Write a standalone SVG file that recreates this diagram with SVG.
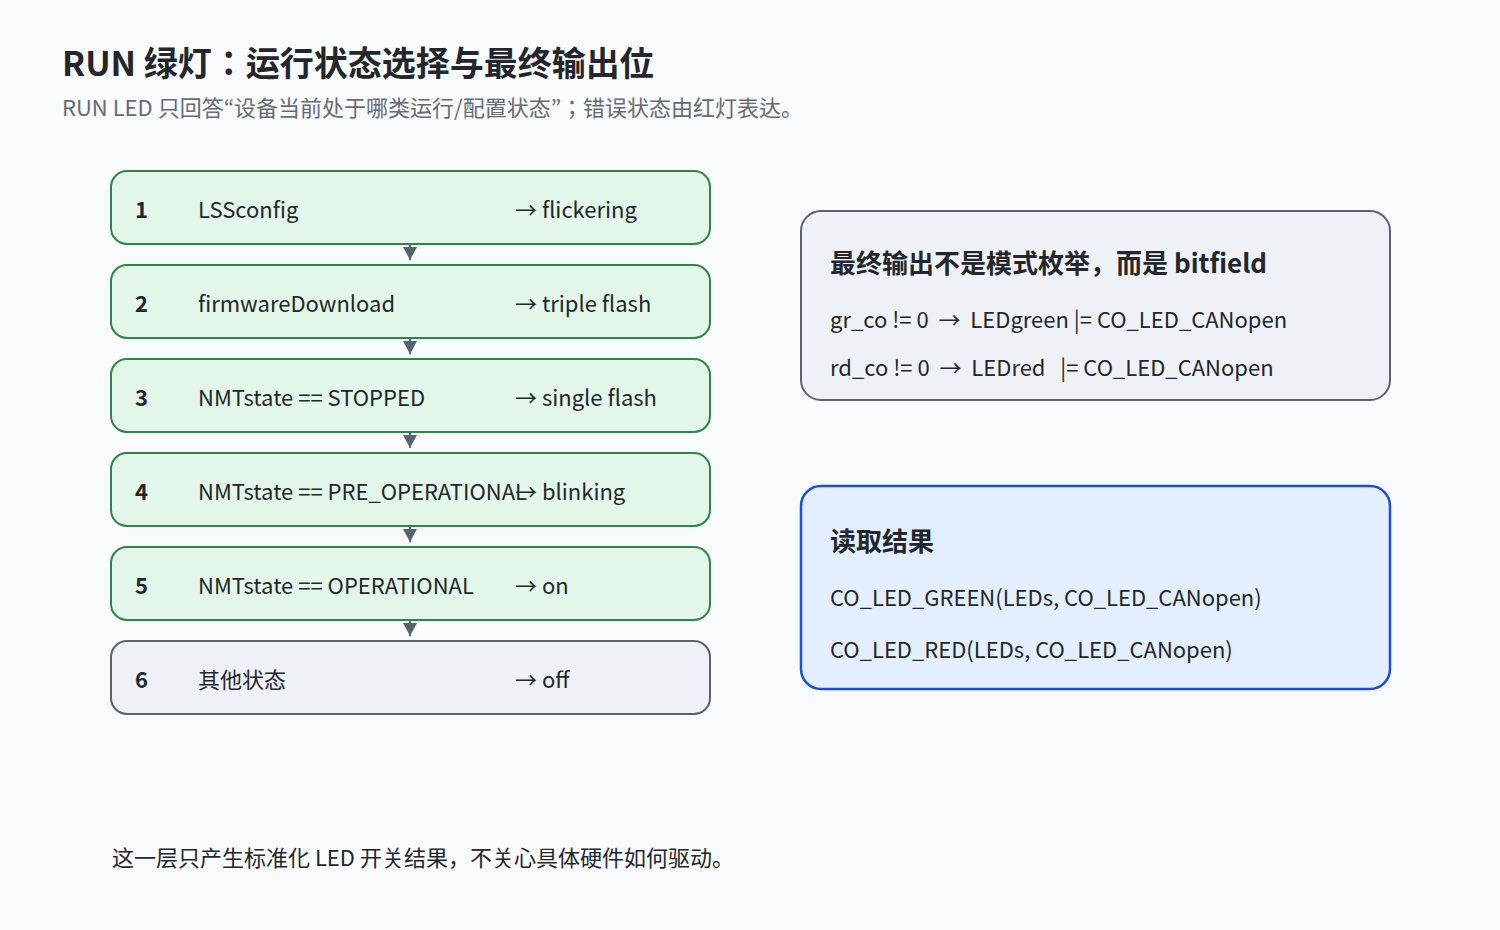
<svg xmlns="http://www.w3.org/2000/svg" width="1500" height="930" viewBox="0 0 1500 930">
<defs>
<style>
text{font-family:"Noto Sans CJK JP","Noto Sans CJK SC",sans-serif;fill:#23262b;white-space:pre}
.t{font-size:34px;font-weight:700}
.sub{font-size:22px;fill:#666b74}
.num{font-size:22px;font-weight:700}
.lb{font-size:22px}
.g{fill:#e3f6ea;stroke:#2e8544;stroke-width:2}
.n{fill:#eef2f7;stroke:#5a6270;stroke-width:2}
.b{fill:#e3efff;stroke:#1d4ed8;stroke-width:2.5}
.h{font-size:26px;font-weight:700}
.con{stroke:#5a6270;stroke-width:2;fill:none}
</style>
<marker id="ah" viewBox="0 0 13 14" refX="13" refY="7" markerWidth="13" markerHeight="14" markerUnits="userSpaceOnUse" orient="auto">
<path d="M0,0 L13,7 L0,14 z" fill="#5a6270"/>
</marker>
</defs>
<rect width="1500" height="930" fill="#f8fafc"/>
<text x="62" y="76" class="t">RUN 绿灯：运行状态选择与最终输出位</text>
<text x="62" y="116" class="sub">RUN LED 只回答“设备当前处于哪类运行/配置状态”；错误状态由红灯表达。</text>

<g id="connectors">
<path class="con" d="M410,245 V260" marker-end="url(#ah)"/>
<path class="con" d="M410,339 V354" marker-end="url(#ah)"/>
<path class="con" d="M410,433 V448" marker-end="url(#ah)"/>
<path class="con" d="M410,527 V542" marker-end="url(#ah)"/>
<path class="con" d="M410,621 V636" marker-end="url(#ah)"/>
</g>

<g id="n1"><rect x="111" y="171" width="599" height="73" rx="16" class="g"/>
<text x="135" y="218" class="num">1</text><text x="198" y="218" class="lb">LSSconfig</text><text x="515" y="218" class="lb">→ flickering</text></g>
<g id="n2"><rect x="111" y="265" width="599" height="73" rx="16" class="g"/>
<text x="135" y="312" class="num">2</text><text x="198" y="312" class="lb">firmwareDownload</text><text x="515" y="312" class="lb">→ triple flash</text></g>
<g id="n3"><rect x="111" y="359" width="599" height="73" rx="16" class="g"/>
<text x="135" y="406" class="num">3</text><text x="198" y="406" class="lb">NMTstate == STOPPED</text><text x="515" y="406" class="lb">→ single flash</text></g>
<g id="n4"><rect x="111" y="453" width="599" height="73" rx="16" class="g"/>
<text x="135" y="500" class="num">4</text><text x="198" y="500" class="lb">NMTstate == PRE_OPERATIONAL</text><text x="515" y="500" class="lb">→ blinking</text></g>
<g id="n5"><rect x="111" y="547" width="599" height="73" rx="16" class="g"/>
<text x="135" y="594" class="num">5</text><text x="198" y="594" class="lb">NMTstate == OPERATIONAL</text><text x="515" y="594" class="lb">→ on</text></g>
<g id="n6"><rect x="111" y="641" width="599" height="73" rx="16" class="n"/>
<text x="135" y="688" class="num">6</text><text x="198" y="688" class="lb">其他状态</text><text x="515" y="688" class="lb">→ off</text></g>

<g id="bitfield"><rect x="801" y="211" width="589" height="189" rx="20" class="n"/>
<text x="830" y="273" class="h">最终输出不是模式枚举，而是 bitfield</text>
<text x="830" y="328" class="lb">gr_co != 0  →  LEDgreen |= CO_LED_CANopen</text>
<text x="830" y="376" class="lb">rd_co != 0  →  LEDred   |= CO_LED_CANopen</text></g>

<g id="read"><rect x="801" y="486" width="589" height="203" rx="20" class="b"/>
<text x="830" y="551" class="h">读取结果</text>
<text x="830" y="606" class="lb">CO_LED_GREEN(LEDs, CO_LED_CANopen)</text>
<text x="830" y="658" class="lb">CO_LED_RED(LEDs, CO_LED_CANopen)</text></g>

<text x="112" y="866" class="lb">这一层只产生标准化 LED 开关结果，不关心具体硬件如何驱动。</text>
</svg>
